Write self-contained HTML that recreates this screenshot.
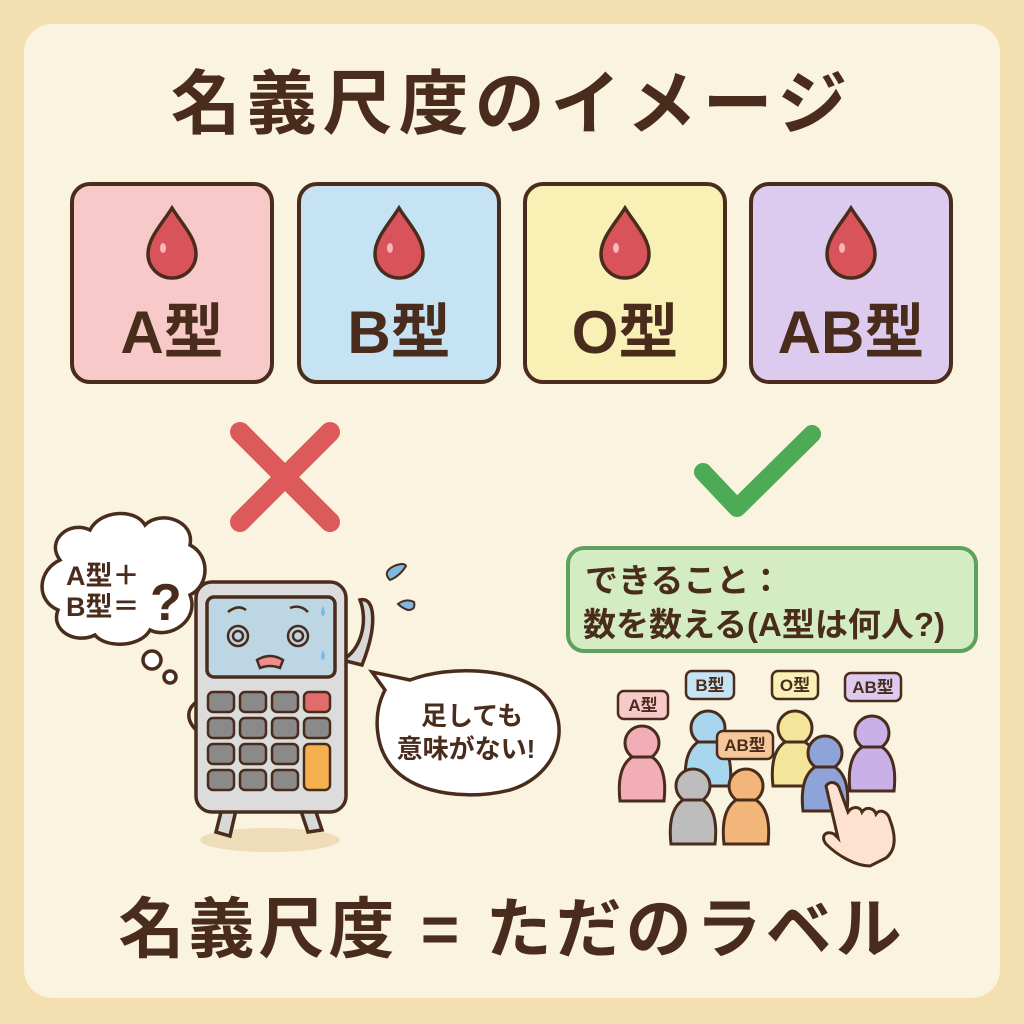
<!DOCTYPE html>
<html><head><meta charset="utf-8"><style>
html,body{margin:0;padding:0;background:#f3dfb0;}
svg{display:block}
text{font-family:"Liberation Sans","Noto Sans CJK JP",sans-serif;font-weight:bold;fill:#4a2c1d}
</style></head><body>
<svg width="1024" height="1024" viewBox="0 0 1024 1024" xmlns="http://www.w3.org/2000/svg">
<rect x="0" y="0" width="1024" height="1024" fill="#f3dfb0"/>
<rect x="24" y="24" width="976" height="974" rx="28" fill="#faf3df"/>
<text x="512" y="128" font-size="70" text-anchor="middle" letter-spacing="6">名義尺度のイメージ</text>

<defs>
<g id="drop"><path d="M0,-34 C10,-18 24,-4 24,12 A24,24 0 0 1 -24,12 C-24,-4 -10,-18 0,-34Z" fill="#d9545a" stroke="#4a2c1d" stroke-width="3.5"/><ellipse cx="-9" cy="6" rx="3" ry="5" fill="#f7b7b7"/></g>
</defs>
<g stroke="#4a2c1d" stroke-width="4">
<rect x="72" y="184" width="200" height="198" rx="18" fill="#f7c9c8"/>
<rect x="299" y="184" width="200" height="198" rx="18" fill="#c6e3f4"/>
<rect x="525" y="184" width="200" height="198" rx="18" fill="#f8f0b4"/>
<rect x="751" y="184" width="200" height="198" rx="18" fill="#dccbef"/>
</g>
<use href="#drop" x="172" y="242"/>
<use href="#drop" x="399" y="242"/>
<use href="#drop" x="625" y="242"/>
<use href="#drop" x="851" y="242"/>
<text x="172" y="353" font-size="60" text-anchor="middle">A型</text>
<text x="399" y="353" font-size="60" text-anchor="middle">B型</text>
<text x="625" y="353" font-size="60" text-anchor="middle">O型</text>
<text x="851" y="353" font-size="60" text-anchor="middle">AB型</text>

<g stroke="#dc5a5a" stroke-width="20" stroke-linecap="round">
<line x1="240" y1="432" x2="330" y2="522"/><line x1="330" y1="432" x2="240" y2="522"/>
</g>
<polyline points="703,472 737,508 812,434" fill="none" stroke="#4daa55" stroke-width="18" stroke-linecap="round" stroke-linejoin="round"/>

<!-- thought cloud -->
<g fill="#fff" stroke="#4a2c1d" stroke-width="3.5">
<path d="M60,560 C45,540 70,520 90,530 C100,510 135,508 145,525 C160,510 195,520 190,545 C210,555 210,585 190,595 C200,620 170,640 150,630 C140,648 105,648 95,635 C75,645 50,630 58,610 C35,600 38,570 60,560Z"/>
<circle cx="152" cy="660" r="9"/><circle cx="170" cy="677" r="6"/>
</g>
<text x="66" y="585" font-size="27">A型＋</text>
<text x="66" y="616" font-size="27">B型＝</text>
<text x="150" y="620" font-size="52">?</text>

<!-- calculator -->
<ellipse cx="270" cy="840" rx="70" ry="12" fill="#efdcb8"/>
<g stroke="#4a2c1d" stroke-width="3.5" fill="#d8d8d8">
<path d="M222,808 L216,832 L230,836 L236,810Z"/><path d="M300,808 L308,832 L322,830 L314,806Z"/>
<path d="M200,700 C180,710 190,730 205,735" fill="none"/>
<path d="M342,660 C362,650 368,620 360,600 C375,596 378,625 362,665Z" fill="#d8d8d8"/>
<rect x="196" y="582" width="150" height="230" rx="16" fill="#dcdcdc"/>
<rect x="207" y="597" width="128" height="80" rx="7" fill="#bcd7e3"/>
</g>
<g fill="none" stroke="#4a2c1d" stroke-width="2.5">
<circle cx="238" cy="636" r="10"/><circle cx="238" cy="636" r="5"/>
<circle cx="298" cy="636" r="10"/><circle cx="298" cy="636" r="5"/>
<path d="M228,612 Q238,604 246,610"/><path d="M290,608 Q300,604 308,612"/>
</g>
<path d="M257,660 Q270,652 283,660 L280,668 Q270,664 260,668Z" fill="#ef8e8e" stroke="#4a2c1d" stroke-width="2.5"/>
<path d="M323,606 q4,8 0,10 q-4,-2 0,-10z M323,650 q4,8 0,10 q-4,-2 0,-10z" fill="#7fb8e0"/>
<g stroke="#4a2c1d" stroke-width="2.5" fill="#8a8a8a">
<rect x="208" y="692" width="26" height="20" rx="5"/><rect x="240" y="692" width="26" height="20" rx="5"/><rect x="272" y="692" width="26" height="20" rx="5"/><rect x="304" y="692" width="26" height="20" rx="5" fill="#e26b6b"/>
<rect x="208" y="718" width="26" height="20" rx="5"/><rect x="240" y="718" width="26" height="20" rx="5"/><rect x="272" y="718" width="26" height="20" rx="5"/><rect x="304" y="718" width="26" height="20" rx="5"/>
<rect x="208" y="744" width="26" height="20" rx="5"/><rect x="240" y="744" width="26" height="20" rx="5"/><rect x="272" y="744" width="26" height="20" rx="5"/><rect x="304" y="744" width="26" height="46" rx="5" fill="#f5b04e"/>
<rect x="208" y="770" width="26" height="20" rx="5"/><rect x="240" y="770" width="26" height="20" rx="5"/><rect x="272" y="770" width="26" height="20" rx="5"/>
</g>
<path d="M390,580 q-8,-8 4,-14 q10,-4 12,0 q-6,10 -16,14z M398,604 q8,-6 16,-2 q2,8 -6,8 q-6,-2 -10,-6z" fill="#7fb8e0" stroke="#4a2c1d" stroke-width="2"/>

<!-- speech bubble -->
<path d="M385,690 L372,672 L410,680 C450,665 510,668 540,690 C575,720 560,775 510,790 C470,800 420,795 395,770 C375,750 372,715 385,690Z" fill="#fff" stroke="#4a2c1d" stroke-width="3.5"/>
<text x="472" y="725" font-size="26" text-anchor="middle">足しても</text>
<text x="466" y="758" font-size="26" text-anchor="middle">意味がない!</text>

<!-- green box -->
<rect x="568" y="548" width="408" height="103" rx="16" fill="#d4ecc1" stroke="#5ea05e" stroke-width="4"/>
<text x="585" y="592" font-size="33">できること：</text>
<text x="583" y="636" font-size="33">数を数える(A型は何人?)</text>

<!-- people -->
<defs>
<g id="person"><circle cx="0" cy="0" r="17"/><path d="M-10,14 C-22,22 -24,40 -22,58 L22,58 C24,40 22,22 10,14Z"/></g>
</defs>
<g stroke="#4a2c1d" stroke-width="3">
<use href="#person" x="708" y="728" fill="#a9d6ef"/>
<use href="#person" x="795" y="728" fill="#f3e69a"/>
<use href="#person" x="872" y="733" fill="#c9b0e6"/>
<use href="#person" x="642" y="743" fill="#f2aeb7"/>
<use href="#person" x="825" y="753" fill="#8ea3d8"/>
<use href="#person" x="693" y="786" fill="#bdbdbd"/>
<use href="#person" x="746" y="786" fill="#f2b57a"/>
</g>
<g stroke="#4a2c1d" stroke-width="2.5" font-size="17">
<rect x="618" y="691" width="50" height="28" rx="6" fill="#f7c9c8"/>
<rect x="686" y="671" width="48" height="28" rx="6" fill="#c6e3f4"/>
<rect x="772" y="671" width="46" height="28" rx="6" fill="#f8f0b4"/>
<rect x="845" y="673" width="56" height="28" rx="6" fill="#dccbef"/>
<rect x="717" y="731" width="56" height="28" rx="6" fill="#f6c79a"/>
</g>
<text x="643" y="711" font-size="17" text-anchor="middle">A型</text>
<text x="710" y="691" font-size="17" text-anchor="middle">B型</text>
<text x="795" y="691" font-size="17" text-anchor="middle">O型</text>
<text x="873" y="693" font-size="17" text-anchor="middle">AB型</text>
<text x="745" y="751" font-size="17" text-anchor="middle">AB型</text>
<!-- hand -->
<path d="M826,786 C830,780 838,782 840,790 L848,812 C852,806 860,806 862,812 C866,806 874,808 876,814 C880,808 888,812 890,820 C896,836 896,850 886,858 L870,866 C856,866 838,856 826,844 C820,836 826,830 834,834 L838,838 Z" fill="#fde3cf" stroke="#4a2c1d" stroke-width="3"/>

<text x="512" y="952" font-size="66" text-anchor="middle" letter-spacing="4">名義尺度 = ただのラベル</text>
</svg>
</body></html>
